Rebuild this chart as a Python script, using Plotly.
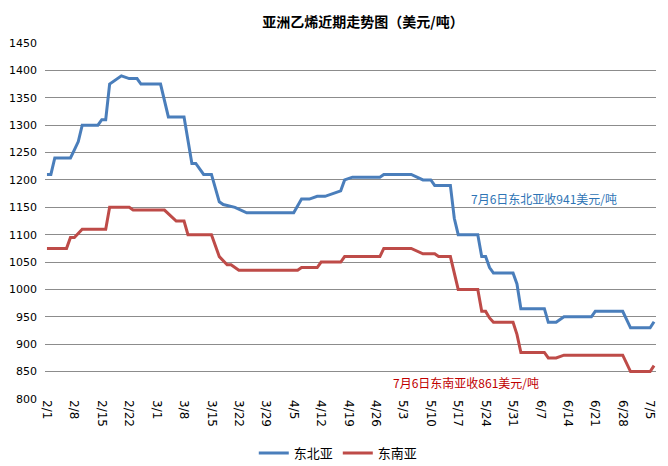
"""亚洲乙烯近期走势图 (Plotly recreation)."""

import plotly.graph_objects as go

YEAR = 2013

# 东北亚 (northeast Asia) price path, USD/t
NE_DATES = ["2/1", "2/2", "2/3", "2/7", "2/8", "2/9", "2/10", "2/14", "2/15", "2/16",
            "2/17", "2/20", "2/22", "2/24", "2/25", "3/2", "3/4", "3/8", "3/10", "3/11",
            "3/13", "3/15", "3/17", "3/18", "3/21", "3/24", "4/5", "4/7", "4/9", "4/11",
            "4/13", "4/17", "4/18", "4/20", "4/27", "4/28", "5/5", "5/8", "5/10", "5/11",
            "5/15", "5/16", "5/17", "5/22", "5/23", "5/24", "5/25", "5/26", "5/31", "6/1",
            "6/2", "6/8", "6/9", "6/11", "6/13", "6/20", "6/21", "6/28", "6/30", "7/5", "7/6"]
NE_PRICES = [1210, 1210, 1240, 1240, 1255, 1270, 1300, 1300, 1310, 1310,
             1375, 1390, 1385, 1385, 1375, 1375, 1315, 1315, 1230, 1230,
             1210, 1210, 1160, 1155, 1150, 1140, 1140, 1165, 1165, 1170,
             1170, 1180, 1200, 1205, 1205, 1210, 1210, 1200, 1200, 1190,
             1190, 1130, 1100, 1100, 1060, 1060, 1040, 1030, 1030, 1010,
             965, 965, 940, 940, 950, 950, 960, 960, 930, 930, 941]

# 东南亚 (southeast Asia) price path, USD/t
SE_DATES = ["2/1", "2/6", "2/7", "2/8", "2/10", "2/16", "2/17", "2/22", "2/23", "3/3",
            "3/6", "3/8", "3/9", "3/15", "3/17", "3/19", "3/20", "3/22", "4/6", "4/7",
            "4/11", "4/12", "4/17", "4/18", "4/27", "4/28", "5/5", "5/8", "5/11", "5/12",
            "5/15", "5/17", "5/22", "5/23", "5/24", "5/25", "5/26", "5/31", "6/1", "6/2",
            "6/8", "6/9", "6/11", "6/13", "6/28", "6/30", "7/5", "7/6"]
SE_PRICES = [1075, 1075, 1095, 1095, 1110, 1110, 1150, 1150, 1145, 1145,
             1125, 1125, 1100, 1100, 1060, 1045, 1045, 1035, 1035, 1040,
             1040, 1050, 1050, 1060, 1060, 1075, 1075, 1065, 1065, 1060,
             1060, 1000, 1000, 960, 960, 948, 940, 940, 918, 885,
             885, 875, 875, 880, 880, 850, 850, 861]

TICK_LABELS = ["2/1", "2/8", "2/15", "2/22", "3/1", "3/8", "3/15", "3/22", "3/29",
               "4/5", "4/12", "4/19", "4/26", "5/3", "5/10", "5/17", "5/24", "5/31",
               "6/7", "6/14", "6/21", "6/28", "7/5"]

BLUE = "#4A7EBB"
RED = "#BE4B48"
CJK = "Noto Sans CJK SC"


def to_iso(md):
    month, day = md.split("/")
    return f"{YEAR}-{int(month):02d}-{int(day):02d}"


fig = go.Figure()
fig.add_trace(go.Scatter(x=[to_iso(d) for d in NE_DATES], y=NE_PRICES, name="东北亚",
                         mode="lines", line=dict(color=BLUE, width=3)))
fig.add_trace(go.Scatter(x=[to_iso(d) for d in SE_DATES], y=SE_PRICES, name="东南亚",
                         mode="lines", line=dict(color=RED, width=3)))

fig.add_annotation(x=to_iso("6/8"), y=1167, text="7月6日东北亚收941美元/吨", showarrow=False,
                   font=dict(family=CJK, size=12, color="#2E74B5"))
fig.add_annotation(x=to_iso("5/19"), y=830, text="7月6日东南亚收861美元/吨", showarrow=False,
                   font=dict(family=CJK, size=12, color="#C00000"))

# the page body adds an 8px offset, so margins are shifted up/left to compensate
fig.update_layout(
    width=668, height=466,
    margin=dict(l=37, r=20, t=35, b=75, autoexpand=False),
    paper_bgcolor="white", plot_bgcolor="white",
    title=dict(text="<b>亚洲乙烯近期走势图（美元/吨）</b>", x=355 / 668, xanchor="center",
               y=1 - 14 / 466, yanchor="middle", font=dict(family=CJK, size=14, color="#000000")),
    showlegend=True,
    legend=dict(orientation="h", x=0.48, xanchor="center", y=-0.152, yanchor="middle",
                font=dict(family=CJK, size=13, color="#000000"), itemwidth=30),
)
fig.update_xaxes(
    type="date", automargin=False,
    range=["2013-01-31 12:00", "2013-07-06 12:00"],
    tickvals=[to_iso(t) for t in TICK_LABELS], ticktext=TICK_LABELS,
    tickangle=90, showgrid=False, showline=False, zeroline=False,
    tickfont=dict(family="DejaVu Sans", size=12, color="#000000"),
)
fig.update_yaxes(
    range=[800, 1450], dtick=50, showgrid=True, gridcolor="#8C8C8C", gridwidth=1,
    zeroline=False, showline=False, ticklabelstandoff=7, automargin=False,
    tickfont=dict(family="DejaVu Sans", size=11, color="#000000"),
)

fig.write_html("out.html")
